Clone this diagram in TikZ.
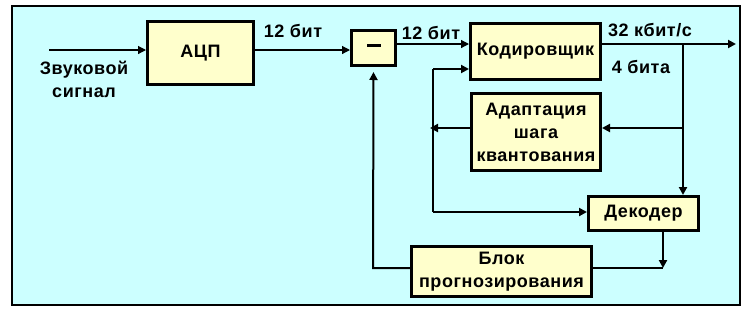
\documentclass[tikz,border=0pt]{standalone}
\usepackage{fontspec}
\setmainfont{Liberation Sans}[LetterSpace=3]
\usetikzlibrary{arrows.meta}
\definecolor{bgcyan}{HTML}{CCFFFF}
\definecolor{boxyellow}{HTML}{FFFFCC}
\begin{document}
\begin{tikzpicture}[x=1pt,y=-1pt,
  font=\fontsize{18}{23}\selectfont\bfseries,
  blk/.style={draw=black,line width=3pt,fill=boxyellow,inner sep=0pt},
  lbl/.style={inner sep=0pt,align=center},
  conn/.style={line width=2pt,-{Triangle[length=8pt,width=8pt]}},
  thinconn/.style={line width=1.2pt,-{Triangle[length=8pt,width=8pt]}},
  plain/.style={line width=2pt}]
\useasboundingbox (0,0) rectangle (744,309);
\fill[white] (0,0) rectangle (744,309);
\draw[line width=2pt,fill=bgcyan] (12,6) rectangle (740,305);

\node[blk,minimum width=106pt,minimum height=63pt] (adc) at (200.5,53) {АЦП};
\node[blk,minimum width=44pt,minimum height=35pt] (minus) at (373.5,48) {};
\node[blk,minimum width=130pt,minimum height=56pt] (coder) at (535.5,51.5) {Кодировщик};
\node[blk,align=center,minimum width=129pt,minimum height=77pt] (adapt) at (536,132) {Адаптация\\шага\\квантования};
\node[blk,minimum width=110pt,minimum height=34pt] (dec) at (643.5,213.5) {Декодер};
\node[blk,align=center,minimum width=180pt,minimum height=50pt] (pred) at (501.5,271.5) {Блок\\прогнозирования};
\fill[black] ([shift={(-7,-4)}]minus.center) rectangle ([shift={(7,-1)}]minus.center);

\node[lbl] (sig) at (84,79) {Звуковой\\сигнал};
\node[lbl] (l12a) at (293,31) {12 бит};
\node[lbl] (l12b) at (431,33) {12 бит};
\node[lbl] (l32) at (650,30) {32 кбит/с};
\node[lbl] (l4) at (641,67) {4 бита};

\coordinate (in) at (49,50);
\coordinate (ly) at (0,44);
\coordinate (out) at (736,44);
\coordinate (br) at (683,44);
\coordinate (bra) at (683,128);
\coordinate (busA) at (433,128);
\coordinate (busT) at (433,69);
\coordinate (busB) at (433,212);
\coordinate (dj) at (663,268);
\coordinate (fb) at (373,268);

\draw[thinconn] (in) -- (in -| adc.west);
\draw[thinconn] (adc.east |- in) -- (minus.west |- in);
\draw[thinconn] (minus.east |- ly) -- (coder.west |- ly);
\draw[conn] (coder.east |- ly) -- (out);
\draw[conn] (br) -- (br |- dec.north);
\draw[conn] (bra) -- (bra -| adapt.east);
\draw[conn,shorten >=-3pt] (adapt.west |- busA) -- (busA);
\draw[plain] (busT) -- (busB);
\draw[conn] (busT) -- (busT -| coder.west);
\draw[conn] (busB) -- (busB -| dec.west);
\draw[conn] (dec.south -| dj) -- (dj);
\draw[plain] (pred.east |- dj) -- (dj);
\draw[conn,shorten >=5pt] (pred.west |- fb) -- (fb) -- (minus.south);
\end{tikzpicture}
\end{document}
